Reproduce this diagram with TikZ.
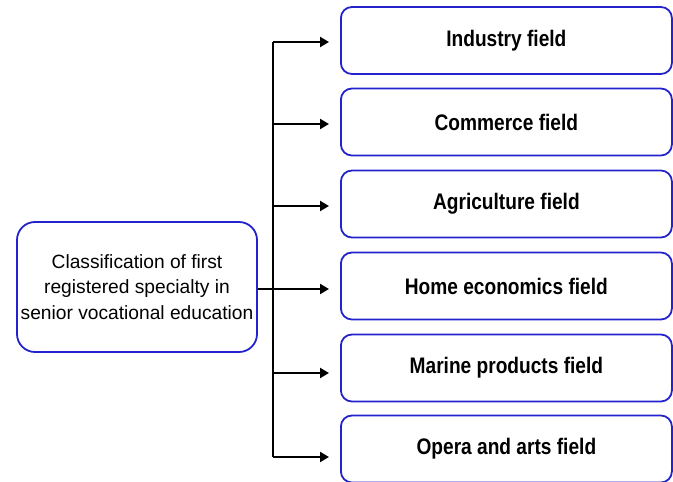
\documentclass[tikz,border=0pt]{standalone}
\usepackage{fontspec}
\setmainfont{Liberation Sans}
\newfontfamily\narrowbold[FakeStretch=0.85]{Liberation Sans Bold}
\usetikzlibrary{arrows.meta}
\definecolor{boxblue}{RGB}{35,35,205}
\tikzset{
  fieldbox/.style={draw=boxblue, line width=1.8pt, rounded corners=11pt, minimum width=331pt, minimum height=67pt, font=\narrowbold\fontsize{22.5}{26}\selectfont, anchor=west},
  mainbox/.style={draw=boxblue, line width=1.8pt, rounded corners=18pt, minimum width=240pt, minimum height=130pt, align=center, font=\fontsize{19.2}{25.5}\selectfont},
  conn/.style={line width=2.8pt, -{Triangle[length=9pt,width=10pt]}},
  trunk/.style={line width=2.8pt}
}
\begin{document}
\begin{tikzpicture}[x=1pt,y=-1pt]
\useasboundingbox (0,0) rectangle (673,482);
\node[mainbox] (m) at (137,287) {Classification of first\\registered specialty in\\senior vocational education};
\node[fieldbox] (f1) at (340,40.5) {Industry field};
\node[fieldbox] (f2) at (340,122) {Commerce field};
\node[fieldbox] (f3) at (340,204) {Agriculture field};
\node[fieldbox] (f4) at (340,286) {Home economics field};
\node[fieldbox] (f5) at (340,368) {Marine products field};
\node[fieldbox] (f6) at (340,449) {Opera and arts field};
\coordinate (t1) at (273,42);
\coordinate (t2) at (273,124);
\coordinate (t3) at (273,206);
\coordinate (t4) at (273,289);
\coordinate (t5) at (273,373);
\coordinate (t6) at (273,457);
\draw[trunk] (t1) -- (t6);
\draw[trunk] (m.east |- t4) -- (t4);
\draw[conn] (t1) -- (t1 -| 329,0);
\draw[conn] (t2) -- (t2 -| 329,0);
\draw[conn] (t3) -- (t3 -| 329,0);
\draw[conn] (t4) -- (t4 -| 329,0);
\draw[conn] (t5) -- (t5 -| 329,0);
\draw[conn] (t6) -- (t6 -| 329,0);
\end{tikzpicture}
\end{document}
